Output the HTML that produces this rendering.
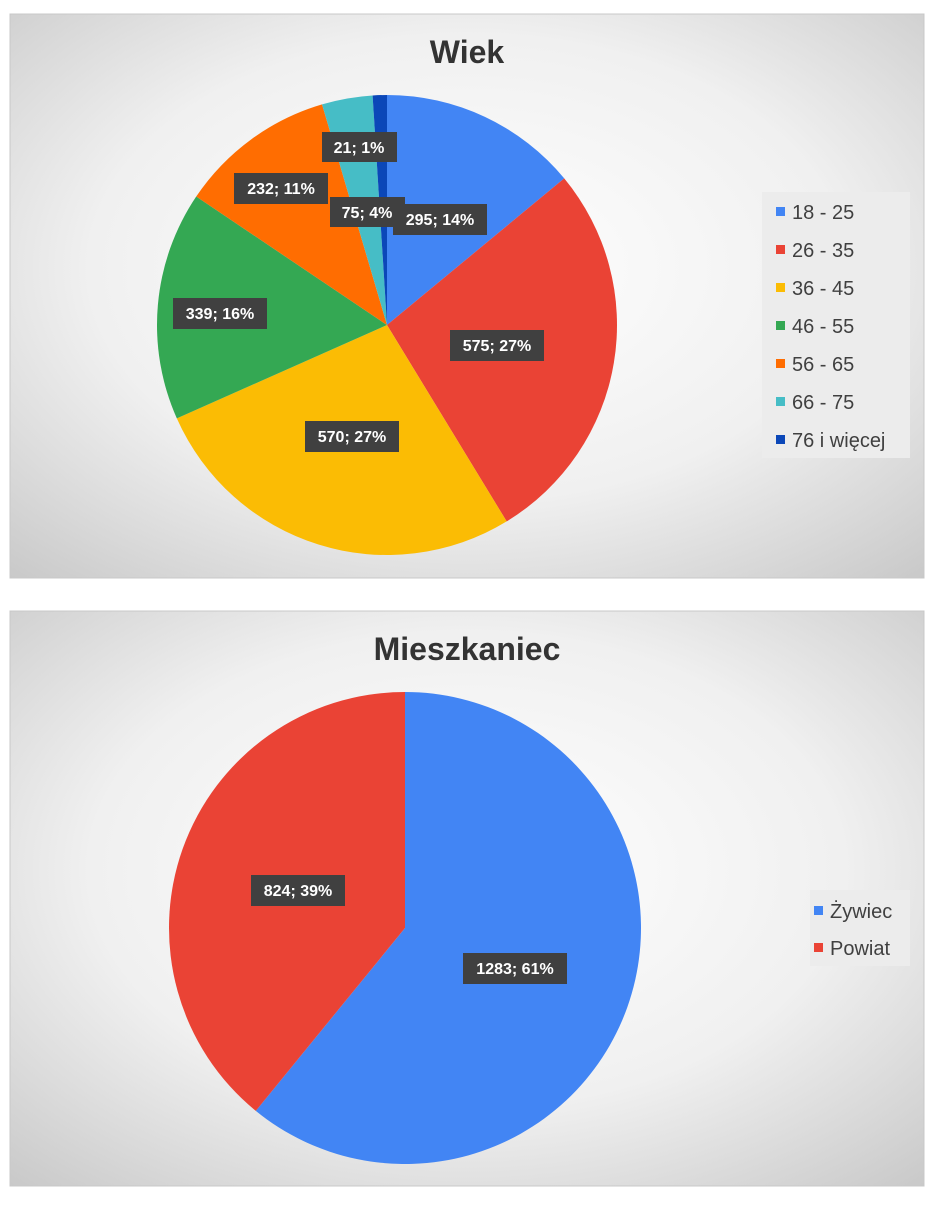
<!DOCTYPE html>
<html><head><meta charset="utf-8"><style>
body{margin:0;width:936px;height:1200px;background:#fff;font-family:"Liberation Sans",sans-serif;}
</style></head><body>
<svg width="936" height="1200" viewBox="0 0 936 1200" xmlns="http://www.w3.org/2000/svg" font-family="Liberation Sans, sans-serif">
<defs>
<radialGradient id="bg" cx="50%" cy="45%" r="75%">
<stop offset="0" stop-color="#ffffff"/><stop offset="0.55" stop-color="#f0f0f0"/><stop offset="1" stop-color="#c8c8c8"/>
</radialGradient>
</defs>
<rect x="10" y="14" width="914" height="564" fill="url(#bg)" stroke="#c8c8c8"/>
<rect x="10" y="611" width="914" height="575" fill="url(#bg)" stroke="#c8c8c8"/>
<text x="467" y="63" text-anchor="middle" font-size="32" font-weight="bold" fill="#333">Wiek</text>
<text x="467" y="660" text-anchor="middle" font-size="32" font-weight="bold" fill="#333">Mieszkaniec</text>
<g id="p1"></g><g id="p2"></g>
<g font-size="16" font-weight="bold" fill="#fff" text-anchor="middle">
<rect x="393" y="204" width="94" height="31" fill="#404040"/><text x="440" y="225">295; 14%</text>
<rect x="330" y="197" width="75" height="30" fill="#404040"/><text x="367" y="218">75; 4%</text>
<rect x="322" y="132" width="75" height="30" fill="#404040"/><text x="359" y="153">21; 1%</text>
<rect x="234" y="173" width="94" height="31" fill="#404040"/><text x="281" y="194">232; 11%</text>
<rect x="173" y="298" width="94" height="31" fill="#404040"/><text x="220" y="319">339; 16%</text>
<rect x="450" y="330" width="94" height="31" fill="#404040"/><text x="497" y="351">575; 27%</text>
<rect x="305" y="421" width="94" height="31" fill="#404040"/><text x="352" y="442">570; 27%</text>
<rect x="251" y="875" width="94" height="31" fill="#404040"/><text x="298" y="896">824; 39%</text>
<rect x="463" y="953" width="104" height="31" fill="#404040"/><text x="515" y="974">1283; 61%</text>
</g>
<rect x="762" y="192" width="148" height="266" fill="#ececec"/>
<g font-size="20" fill="#404040">
<rect x="776" y="207" width="9" height="9" fill="#4285f4"/><text x="792" y="219">18 - 25</text>
<rect x="776" y="245" width="9" height="9" fill="#ea4335"/><text x="792" y="257">26 - 35</text>
<rect x="776" y="283" width="9" height="9" fill="#fbbc04"/><text x="792" y="295">36 - 45</text>
<rect x="776" y="321" width="9" height="9" fill="#34a853"/><text x="792" y="333">46 - 55</text>
<rect x="776" y="359" width="9" height="9" fill="#ff6d01"/><text x="792" y="371">56 - 65</text>
<rect x="776" y="397" width="9" height="9" fill="#46bdc6"/><text x="792" y="409">66 - 75</text>
<rect x="776" y="435" width="9" height="9" fill="#0b47b8"/><text x="792" y="447">76 i więcej</text>
</g>
<rect x="810" y="890" width="100" height="76" fill="#ececec"/>
<g font-size="20" fill="#404040">
<rect x="814" y="906" width="9" height="9" fill="#4285f4"/><text x="830" y="918">Żywiec</text>
<rect x="814" y="943" width="9" height="9" fill="#ea4335"/><text x="830" y="955">Powiat</text>
</g>
</svg>
<script>
function pie(id,cx,cy,r,vals,cols){var t=vals.reduce((a,b)=>a+b,0),a=0,g=document.getElementById(id),s="";
vals.forEach((v,i)=>{var a1=a+v/t*2*Math.PI;var x0=cx+r*Math.sin(a),y0=cy-r*Math.cos(a),x1=cx+r*Math.sin(a1),y1=cy-r*Math.cos(a1);
s+='<path d="M'+cx+','+cy+' L'+x0+','+y0+' A'+r+','+r+' 0 '+((a1-a)>Math.PI?1:0)+' 1 '+x1+','+y1+' Z" fill="'+cols[i]+'"/>';a=a1;});
g.innerHTML=s;g.parentNode.insertBefore(g,g.parentNode.children[4]);}
pie("p1",387,325,230,[295,575,570,339,232,75,21],["#4285f4","#ea4335","#fbbc04","#34a853","#ff6d01","#46bdc6","#0b47b8"]);
pie("p2",405,928,236,[1283,824],["#4285f4","#ea4335"]);
</script>
</body></html>
